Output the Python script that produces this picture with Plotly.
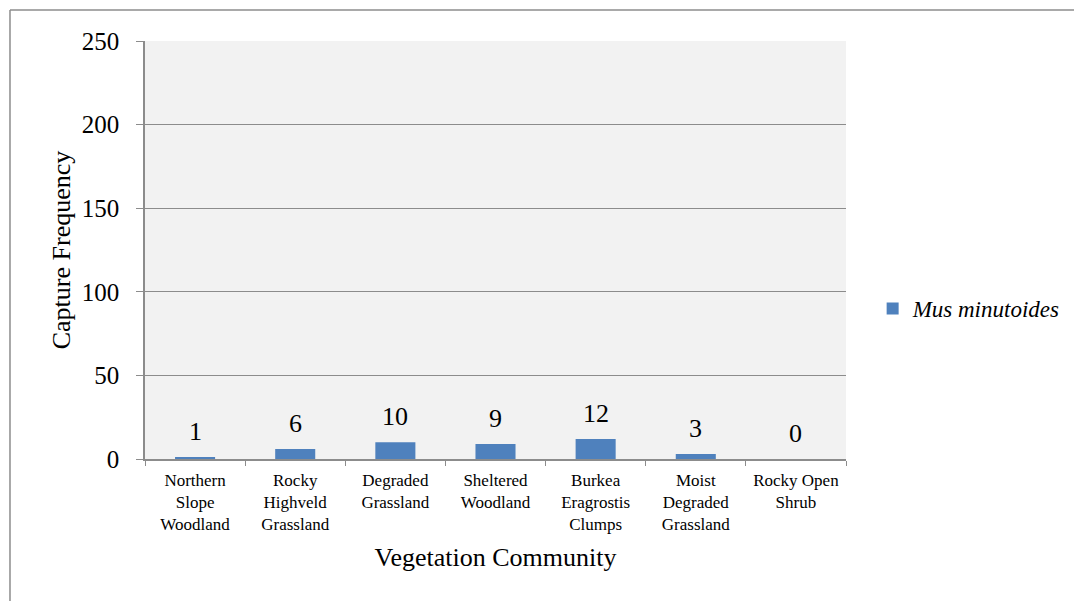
import plotly.graph_objects as go

categories = ["Northern<br>Slope<br>Woodland", "Rocky<br>Highveld<br>Grassland", "Degraded<br>Grassland",
              "Sheltered<br>Woodland", "Burkea<br>Eragrostis<br>Clumps", "Moist<br>Degraded<br>Grassland",
              "Rocky Open<br>Shrub"]
values = [1, 6, 10, 9, 12, 3, 0]
series_name = "Mus minutoides"
y_ticks = [0, 50, 100, 150, 200, 250]

FONT = "Liberation Serif, Times New Roman, serif"

fig = go.Figure()
fig.add_trace(go.Bar(x=categories, y=values, name="<i>" + series_name + "</i>",
                     marker=dict(color="#4f81bd", line=dict(width=0)), width=0.4,
                     showlegend=True))

for c, v in zip(categories, values):
    fig.add_annotation(x=c, y=v, text=str(v), showarrow=False, yanchor="bottom",
                       yshift=9, font=dict(family=FONT, size=26, color="black"))

# outer frame (left and top edges)
fig.add_shape(type="line", xref="paper", yref="paper", x0=-0.1926, x1=-0.1926, y0=-0.5, y1=1.0742,
              line=dict(color="#8c8c8c", width=1.5))
fig.add_shape(type="line", xref="paper", yref="paper", x0=-0.1926, x1=1.4, y0=1.0742, y1=1.0742,
              line=dict(color="#8c8c8c", width=1.5))

fig.update_layout(
    width=1074, height=601,
    margin=dict(l=145, r=228, t=41, b=142, autoexpand=False),
    paper_bgcolor="white", plot_bgcolor="#f2f2f2",
    font=dict(family=FONT, color="black"),
    bargap=0.6,
    legend=dict(x=1.038, y=0.36, xanchor="left", yanchor="middle",
                font=dict(family=FONT, size=23, color="black"), bgcolor="rgba(0,0,0,0)"),
    xaxis=dict(type="category", tickson="boundaries", ticks="outside", ticklen=5,
               tickcolor="#8c8c8c", showline=True, linecolor="#8c8c8c", linewidth=1.5,
               showgrid=False, ticklabelstandoff=5,
               tickfont=dict(family=FONT, size=17, color="black"),
               title=dict(text="Vegetation Community", font=dict(family=FONT, size=26, color="black"),
                          standoff=14)),
    yaxis=dict(range=[0, 250], tickvals=y_ticks, ticks="outside", ticklen=7, tickcolor="#8c8c8c",
               showline=True, linecolor="#8c8c8c", linewidth=1.5,
               showgrid=True, gridcolor="#8c8c8c", gridwidth=1, zeroline=False,
               ticklabelstandoff=12,
               tickfont=dict(family=FONT, size=25, color="black"),
               title=dict(text="Capture Frequency", font=dict(family=FONT, size=26, color="black"),
                          standoff=4)),
)

fig.write_html("out.html")
